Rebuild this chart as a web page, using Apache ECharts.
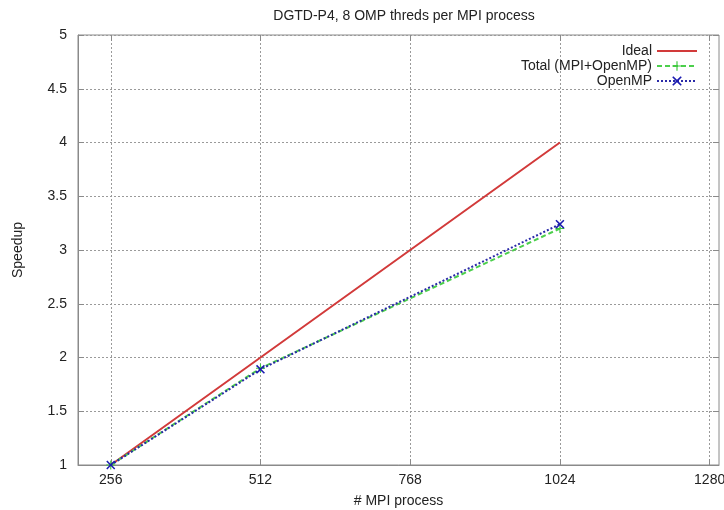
<!DOCTYPE html>
<html>
<head>
<meta charset="utf-8">
<script src="https://cdn.jsdelivr.net/npm/echarts@6/dist/echarts.min.js"></script>
<style>html,body{margin:0;padding:0;background:#fff}#c{width:724px;height:510px}</style>
</head>
<body>
<div id="c"></div>
<script>
const titleText = 'DGTD-P4, 8 OMP threds per MPI process';
const processes = [256, 512, 1024];
const ideal = [1, 2, 4];
const total = [1, 1.9, 3.2];
const openmp = [1, 1.89, 3.24];
const xTicks = [256, 512, 768, 1024, 1280];
const seriesNames = ['Ideal', 'Total (MPI+OpenMP)', 'OpenMP'];

const FONT = 'Liberation Sans';
const TXT = '#222';
const AX = '#8a8a8a';
const pair = (ys) => processes.map((x, i) => [x, ys[i]]);
const xSym = 'path://M0,1.2L1.2,0L5,3.8L8.8,0L10,1.2L6.2,5L10,8.8L8.8,10L5,6.2L1.2,10L0,8.8L3.8,5Z';
const plusSym = 'path://M4.4,0L5.6,0L5.6,4.4L10,4.4L10,5.6L5.6,5.6L5.6,10L4.4,10L4.4,5.6L0,5.6L0,4.4L4.4,4.4Z';

const chart = echarts.init(document.getElementById('c'), null, {renderer: 'canvas'});
const legendBase = {
  orient: 'vertical', right: 21, align: 'right', itemWidth: 40, itemHeight: 12,
  textStyle: {fontFamily: FONT, fontSize: 14, color: TXT}, selectedMode: false
};
chart.setOption({
  animation: false,
  backgroundColor: '#fff',
  title: {text: titleText, left: 399, textAlign: 'center', top: 4,
    textStyle: {fontFamily: FONT, fontSize: 14, fontWeight: 'normal', color: TXT}},
  legend: [
    Object.assign({}, legendBase, {data: [seriesNames[0]], top: 39, itemStyle: {opacity: 0}}),
    Object.assign({}, legendBase, {data: [seriesNames[1]], top: 54}),
    Object.assign({}, legendBase, {data: [seriesNames[2]], top: 69})
  ],
  grid: {left: 78, right: 5, top: 35, bottom: 45, outerBoundsMode: 'none', containLabel: false,
    show: true, borderColor: AX, borderWidth: 1},
  xAxis: [{
    type: 'value', min: 200, max: 1296,
    name: '# MPI process', nameLocation: 'middle', nameGap: 29,
    nameTextStyle: {fontFamily: FONT, fontSize: 14, color: TXT},
    axisLine: {show: true, lineStyle: {color: AX}},
    axisTick: {show: true, inside: true, length: 6, customValues: xTicks, lineStyle: {color: AX}},
    axisLabel: {customValues: xTicks, formatter: (v) => String(v), fontFamily: FONT, fontSize: 14, color: TXT, margin: 8},
    splitLine: {show: true, lineStyle: {color: '#9a9a9a', type: [2, 2], width: 1}}
  }, {
    type: 'value', min: 200, max: 1296, position: 'top',
    axisLine: {show: false},
    axisTick: {show: true, inside: true, length: 6, customValues: xTicks, lineStyle: {color: AX}},
    axisLabel: {show: false, customValues: xTicks},
    splitLine: {show: false}
  }],
  yAxis: [{
    type: 'value', min: 1, max: 5, interval: 0.5,
    name: 'Speedup', nameLocation: 'middle', nameGap: 53,
    nameTextStyle: {fontFamily: FONT, fontSize: 14, color: TXT},
    axisLine: {show: true, lineStyle: {color: AX}},
    axisTick: {show: true, inside: true, length: 6, lineStyle: {color: AX}},
    axisLabel: {fontFamily: FONT, fontSize: 14, color: TXT, margin: 11},
    splitLine: {show: true, lineStyle: {color: '#9a9a9a', type: [2, 2], width: 1}}
  }, {
    type: 'value', min: 1, max: 5, interval: 0.5, position: 'right',
    axisLine: {show: false},
    axisTick: {show: true, inside: true, length: 6, lineStyle: {color: AX}},
    axisLabel: {show: false},
    splitLine: {show: false}
  }],
  series: [{
    name: seriesNames[0], type: 'line', data: pair(ideal), symbol: 'none',
    lineStyle: {color: '#d23a3a', width: 2}, itemStyle: {color: '#d23a3a'}
  }, {
    name: seriesNames[1], type: 'line', data: pair(total), symbol: plusSym, symbolSize: 9,
    lineStyle: {color: '#4ccf4c', width: 2, type: [5, 3]}, itemStyle: {color: '#3cc83c'}
  }, {
    name: seriesNames[2], type: 'line', data: pair(openmp), symbol: xSym, symbolSize: 9,
    lineStyle: {color: '#2a2aa8', width: 2, type: [2, 2]}, itemStyle: {color: '#1c1cb0'}
  }]
});
</script>
</body>
</html>
